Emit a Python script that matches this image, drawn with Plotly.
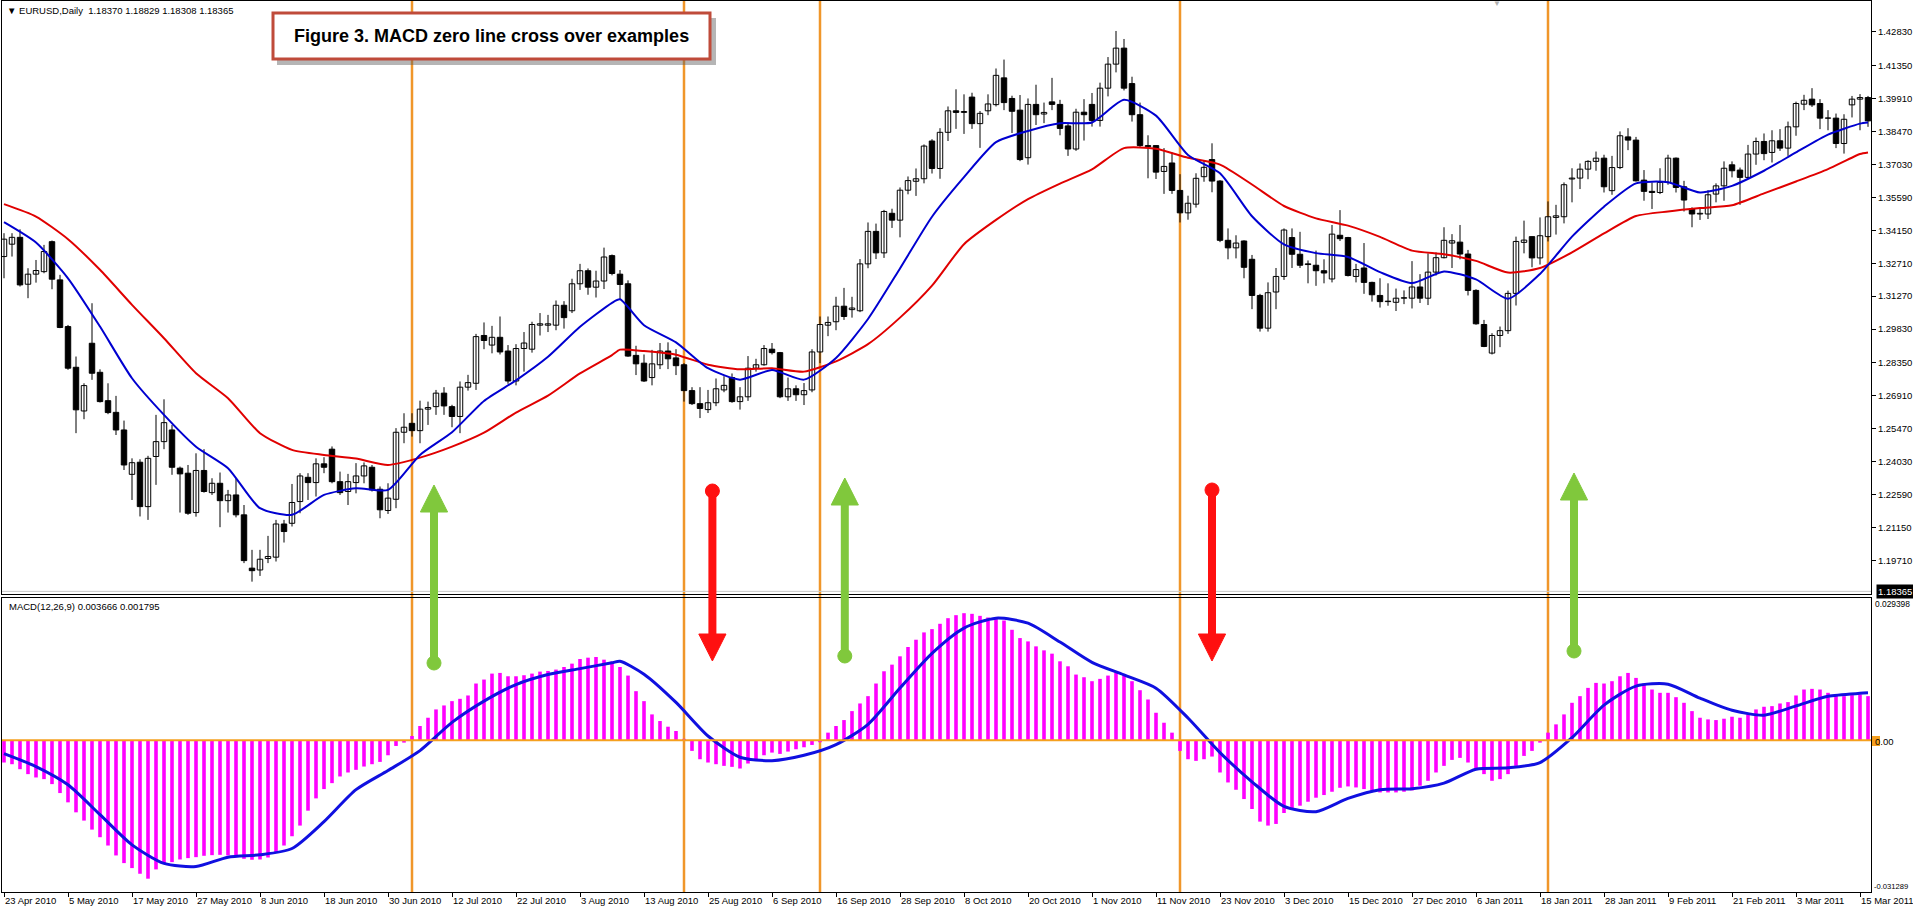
import plotly.graph_objects as go

# daily EURUSD bars, 23 Apr 2010 .. 16 Mar 2011
OPEN = [
    1.3300, 1.3354, 1.3384, 1.3179, 1.3223, 1.3234, 1.3365, 1.3198, 1.2994, 1.2816,
    1.2625, 1.2921, 1.2794, 1.2670, 1.2619, 1.2542, 1.2348, 1.2401, 1.2207, 1.2426,
    1.2491, 1.2542, 1.2375, 1.2353, 1.2181, 1.2365, 1.2268, 1.2309, 1.2233, 1.2258,
    1.2171, 1.1938, 1.1930, 1.1980, 1.1986, 1.2131, 1.2134, 1.2229, 1.2335, 1.2312,
    1.2394, 1.2458, 1.2316, 1.2273, 1.2312, 1.2341, 1.2379, 1.2283, 1.2190, 1.2239,
    1.2532, 1.2571, 1.2539, 1.2633, 1.2644, 1.2703, 1.2644, 1.2601, 1.2729, 1.2746,
    1.2955, 1.2913, 1.2947, 1.2887, 1.2756, 1.2898, 1.2895, 1.3000, 1.3000, 1.3000,
    1.3087, 1.3063, 1.3181, 1.3238, 1.3166, 1.3193, 1.3304, 1.3223, 1.3181, 1.2868,
    1.2834, 1.2771, 1.2827, 1.2887, 1.2857, 1.2827, 1.2714, 1.2657, 1.2631, 1.2661,
    1.2717, 1.2771, 1.2666, 1.2687, 1.2812, 1.2827, 1.2895, 1.2880, 1.2687, 1.2722,
    1.2696, 1.2717, 1.2883, 1.3000, 1.3015, 1.3083, 1.3068, 1.3063, 1.3268, 1.3410,
    1.3316, 1.3489, 1.3459, 1.3590, 1.3629, 1.3640, 1.3805, 1.3685, 1.3843, 1.3937,
    1.3930, 1.3997, 1.3881, 1.3937, 1.3964, 1.4081, 1.3991, 1.3940, 1.3732, 1.3965,
    1.3923, 1.3976, 1.3965, 1.3871, 1.3770, 1.3931, 1.3965, 1.3895, 1.4036, 1.4141,
    1.4211, 1.4056, 1.3920, 1.3785, 1.3785, 1.3672, 1.3709, 1.3589, 1.3491, 1.3529,
    1.3649, 1.3724, 1.3630, 1.3371, 1.3338, 1.3368, 1.3288, 1.3130, 1.2987, 1.3145,
    1.3213, 1.3383, 1.3310, 1.3268, 1.3262, 1.3238, 1.3202, 1.3393, 1.3383, 1.3213,
    1.3250, 1.3187, 1.3130, 1.3105, 1.3100, 1.3118, 1.3118, 1.3167, 1.3118, 1.3232,
    1.3295, 1.3359, 1.3363, 1.3311, 1.3152, 1.3003, 1.2878, 1.2955, 1.2976, 1.3139,
    1.3362, 1.3387, 1.3294, 1.3387, 1.3471, 1.3474, 1.3639, 1.3643, 1.3682, 1.3716,
    1.3730, 1.3588, 1.3689, 1.3823, 1.3809, 1.3634, 1.3585, 1.3580, 1.3624, 1.3730,
    1.3605, 1.3508, 1.3486, 1.3486, 1.3573, 1.3609, 1.3701, 1.3678, 1.3646, 1.3748,
    1.3803, 1.3755, 1.3806, 1.3774, 1.3867, 1.3966, 1.3988, 1.3969, 1.3905, 1.3905,
    1.3794, 1.3963, 1.3988, 1.3995,
]
HIGH = [
    1.3402, 1.3402, 1.3419, 1.3249, 1.3285, 1.3351, 1.3370, 1.3220, 1.3001, 1.2863,
    1.2746, 1.3096, 1.2807, 1.2746, 1.2691, 1.2583, 1.2418, 1.2414, 1.2429, 1.2608,
    1.2676, 1.2564, 1.2382, 1.2389, 1.2440, 1.2458, 1.2331, 1.2356, 1.2280, 1.2331,
    1.2214, 1.2018, 1.2018, 1.2079, 1.2149, 1.2149, 1.2306, 1.2353, 1.2353, 1.2418,
    1.2423, 1.2470, 1.2360, 1.2350, 1.2397, 1.2400, 1.2389, 1.2295, 1.2309, 1.2550,
    1.2615, 1.2615, 1.2670, 1.2666, 1.2717, 1.2729, 1.2652, 1.2754, 1.2783, 1.2962,
    1.3012, 1.2997, 1.3038, 1.2913, 1.2917, 1.2970, 1.3015, 1.3053, 1.3045, 1.3108,
    1.3105, 1.3203, 1.3268, 1.3248, 1.3238, 1.3339, 1.3309, 1.3241, 1.3196, 1.2910,
    1.2872, 1.2892, 1.2922, 1.2925, 1.2895, 1.2834, 1.2729, 1.2729, 1.2717, 1.2767,
    1.2777, 1.2789, 1.2729, 1.2865, 1.2853, 1.2913, 1.2922, 1.2883, 1.2771, 1.2737,
    1.2747, 1.2895, 1.3038, 1.3038, 1.3124, 1.3163, 1.3124, 1.3289, 1.3449, 1.3444,
    1.3504, 1.3509, 1.3602, 1.3650, 1.3685, 1.3790, 1.3813, 1.3861, 1.3956, 1.4031,
    1.4009, 1.4016, 1.3936, 1.4009, 1.4122, 1.4161, 1.4003, 1.4006, 1.3991, 1.4051,
    1.3973, 1.4081, 1.3985, 1.3886, 1.3946, 1.3988, 1.4015, 1.4060, 1.4172, 1.4286,
    1.4251, 1.4086, 1.3973, 1.3830, 1.3785, 1.3774, 1.3755, 1.3660, 1.3566, 1.3664,
    1.3720, 1.3795, 1.3634, 1.3423, 1.3393, 1.3371, 1.3307, 1.3137, 1.3187, 1.3250,
    1.3423, 1.3423, 1.3408, 1.3283, 1.3326, 1.3288, 1.3438, 1.3503, 1.3386, 1.3268,
    1.3359, 1.3190, 1.3205, 1.3183, 1.3160, 1.3152, 1.3280, 1.3223, 1.3314, 1.3318,
    1.3428, 1.3398, 1.3438, 1.3329, 1.3157, 1.3023, 1.2965, 1.2994, 1.3151, 1.3387,
    1.3457, 1.3387, 1.3471, 1.3541, 1.3526, 1.3624, 1.3686, 1.3707, 1.3721, 1.3759,
    1.3745, 1.3740, 1.3847, 1.3861, 1.3823, 1.3678, 1.3624, 1.3686, 1.3745, 1.3733,
    1.3631, 1.3515, 1.3515, 1.3590, 1.3620, 1.3716, 1.3716, 1.3689, 1.3788, 1.3820,
    1.3838, 1.3852, 1.3857, 1.3890, 1.3977, 1.4007, 1.4036, 1.3988, 1.3940, 1.3925,
    1.3922, 1.4002, 1.4010, 1.4002,
]
LOW = [
    1.3205, 1.3300, 1.3169, 1.3118, 1.3186, 1.3227, 1.3157, 1.2987, 1.2805, 1.2528,
    1.2589, 1.2761, 1.2662, 1.2611, 1.2520, 1.2367, 1.2236, 1.2164, 1.2149, 1.2302,
    1.2458, 1.2346, 1.2181, 1.2171, 1.2163, 1.2268, 1.2258, 1.2117, 1.2181, 1.2160,
    1.1960, 1.1879, 1.1904, 1.1960, 1.1967, 1.2050, 1.2120, 1.2178, 1.2236, 1.2251,
    1.2353, 1.2309, 1.2258, 1.2214, 1.2265, 1.2309, 1.2273, 1.2156, 1.2175, 1.2200,
    1.2484, 1.2513, 1.2484, 1.2564, 1.2608, 1.2608, 1.2554, 1.2528, 1.2714, 1.2717,
    1.2895, 1.2877, 1.2872, 1.2744, 1.2737, 1.2797, 1.2880, 1.2955, 1.2970, 1.2978,
    1.2985, 1.3053, 1.3154, 1.3133, 1.3121, 1.3158, 1.3218, 1.3113, 1.2862, 1.2782,
    1.2752, 1.2737, 1.2808, 1.2808, 1.2782, 1.2666, 1.2651, 1.2594, 1.2616, 1.2646,
    1.2707, 1.2661, 1.2631, 1.2669, 1.2797, 1.2823, 1.2872, 1.2681, 1.2669, 1.2669,
    1.2651, 1.2707, 1.2834, 1.2952, 1.2978, 1.3023, 1.3033, 1.3057, 1.3249, 1.3289,
    1.3294, 1.3425, 1.3384, 1.3572, 1.3565, 1.3620, 1.3663, 1.3640, 1.3805, 1.3858,
    1.3836, 1.3858, 1.3775, 1.3918, 1.3956, 1.3940, 1.3840, 1.3717, 1.3702, 1.3875,
    1.3883, 1.3940, 1.3830, 1.3740, 1.3762, 1.3807, 1.3868, 1.3868, 1.4000, 1.4105,
    1.4026, 1.3890, 1.3777, 1.3642, 1.3639, 1.3574, 1.3574, 1.3449, 1.3461, 1.3514,
    1.3627, 1.3581, 1.3363, 1.3288, 1.3292, 1.3205, 1.3070, 1.2972, 1.2972, 1.3070,
    1.3198, 1.3250, 1.3250, 1.3183, 1.3172, 1.3183, 1.3187, 1.3368, 1.3213, 1.3187,
    1.3137, 1.3103, 1.3077, 1.3085, 1.3062, 1.3092, 1.3073, 1.3097, 1.3088, 1.3217,
    1.3292, 1.3250, 1.3288, 1.3130, 1.3002, 1.2904, 1.2872, 1.2904, 1.2962, 1.3086,
    1.3314, 1.3253, 1.3265, 1.3366, 1.3396, 1.3445, 1.3537, 1.3595, 1.3638, 1.3675,
    1.3580, 1.3570, 1.3682, 1.3765, 1.3628, 1.3544, 1.3508, 1.3573, 1.3614, 1.3580,
    1.3497, 1.3428, 1.3460, 1.3464, 1.3537, 1.3544, 1.3646, 1.3526, 1.3643, 1.3701,
    1.3721, 1.3711, 1.3762, 1.3740, 1.3828, 1.3940, 1.3954, 1.3857, 1.3852, 1.3774,
    1.3750, 1.3908, 1.3852, 1.3867,
]
CLOSE = [
    1.3376, 1.3384, 1.3176, 1.3223, 1.3239, 1.3322, 1.3201, 1.2990, 1.2812, 1.2630,
    1.2736, 1.2790, 1.2666, 1.2618, 1.2542, 1.2389, 1.2399, 1.2207, 1.2418, 1.2491,
    1.2574, 1.2379, 1.2350, 1.2178, 1.2365, 1.2273, 1.2309, 1.2233, 1.2258, 1.2171,
    1.1971, 1.1927, 1.1977, 1.1989, 1.2131, 1.2098, 1.2225, 1.2341, 1.2312, 1.2394,
    1.2379, 1.2316, 1.2268, 1.2316, 1.2341, 1.2385, 1.2280, 1.2193, 1.2244, 1.2532,
    1.2554, 1.2539, 1.2633, 1.2640, 1.2703, 1.2647, 1.2601, 1.2729, 1.2749, 1.2950,
    1.2933, 1.2947, 1.2883, 1.2756, 1.2898, 1.2922, 1.3003, 1.3006, 1.3006, 1.3087,
    1.3033, 1.3181, 1.3238, 1.3166, 1.3193, 1.3298, 1.3226, 1.3178, 1.2865, 1.2831,
    1.2756, 1.2831, 1.2887, 1.2853, 1.2823, 1.2714, 1.2657, 1.2636, 1.2661, 1.2722,
    1.2737, 1.2666, 1.2687, 1.2812, 1.2827, 1.2898, 1.2880, 1.2687, 1.2722, 1.2696,
    1.2714, 1.2883, 1.3003, 1.3012, 1.3083, 1.3038, 1.3075, 1.3268, 1.3410, 1.3316,
    1.3497, 1.3459, 1.3590, 1.3632, 1.3640, 1.3783, 1.3685, 1.3843, 1.3937, 1.3930,
    1.3934, 1.3881, 1.3926, 1.3967, 1.4092, 1.3973, 1.3935, 1.3724, 1.3965, 1.3920,
    1.3930, 1.3965, 1.3860, 1.3770, 1.3931, 1.3920, 1.3895, 1.4036, 1.4141, 1.4211,
    1.4036, 1.3920, 1.3785, 1.3780, 1.3669, 1.3694, 1.3589, 1.3491, 1.3533, 1.3642,
    1.3690, 1.3630, 1.3371, 1.3338, 1.3359, 1.3253, 1.3130, 1.2987, 1.3142, 1.3213,
    1.3416, 1.3310, 1.3262, 1.3265, 1.3238, 1.3228, 1.3398, 1.3378, 1.3217, 1.3243,
    1.3187, 1.3133, 1.3103, 1.3103, 1.3118, 1.3120, 1.3167, 1.3118, 1.3232, 1.3295,
    1.3371, 1.3369, 1.3311, 1.3152, 1.3006, 1.2907, 1.2955, 1.2976, 1.3139, 1.3366,
    1.3372, 1.3294, 1.3391, 1.3474, 1.3478, 1.3614, 1.3643, 1.3682, 1.3716, 1.3730,
    1.3605, 1.3689, 1.3828, 1.3809, 1.3631, 1.3585, 1.3580, 1.3624, 1.3730, 1.3602,
    1.3547, 1.3486, 1.3489, 1.3570, 1.3609, 1.3686, 1.3675, 1.3646, 1.3748, 1.3803,
    1.3750, 1.3806, 1.3774, 1.3867, 1.3969, 1.3983, 1.3963, 1.3905, 1.3905, 1.3794,
    1.3900, 1.3988, 1.3995, 1.3893,
]

# moving averages and MACD signal, read every few bars
MA_IDX = [0, 4, 8, 12, 16, 20, 24, 28, 32, 36, 40, 44, 48, 52, 56, 60, 64, 68, 72, 76, 77,
          80, 84, 88, 92, 96, 100, 104, 108, 112, 116, 120, 124, 128, 132, 136, 140, 144,
          148, 152, 156, 160, 164, 168, 172, 176, 180, 184, 188, 192, 196, 200, 204, 208,
          212, 216, 220, 224, 228, 232, 233]
MA_FAST = [1.3450, 1.3361, 1.3205, 1.2994, 1.2768, 1.2608, 1.2469, 1.2375, 1.2200, 1.2171,
           1.2258, 1.2287, 1.2280, 1.2433, 1.2532, 1.2669, 1.2759, 1.2862, 1.2993, 1.3098,
           1.3113, 1.3000, 1.2925, 1.2812, 1.2762, 1.2804, 1.2762, 1.2857, 1.3027, 1.3248,
           1.3474, 1.3647, 1.3800, 1.3849, 1.3883, 1.3886, 1.3985, 1.3916, 1.3744, 1.3664,
           1.3476, 1.3353, 1.3315, 1.3298, 1.3232, 1.3184, 1.3235, 1.3200, 1.3116, 1.3224,
           1.3387, 1.3518, 1.3620, 1.3625, 1.3580, 1.3609, 1.3675, 1.3755, 1.3833, 1.3881,
           1.3886]
MA_SLOW = [1.3529, 1.3475, 1.3376, 1.3242, 1.3089, 1.2943, 1.2790, 1.2681, 1.2528, 1.2455,
           1.2433, 1.2417, 1.2389, 1.2421, 1.2469, 1.2530, 1.2618, 1.2692, 1.2789, 1.2869,
           1.2893, 1.2887, 1.2871, 1.2827, 1.2807, 1.2812, 1.2797, 1.2842, 1.2917, 1.3033,
           1.3173, 1.3354, 1.3460, 1.3551, 1.3619, 1.3681, 1.3774, 1.3771, 1.3732, 1.3702,
           1.3615, 1.3521, 1.3467, 1.3435, 1.3386, 1.3326, 1.3310, 1.3281, 1.3230, 1.3250,
           1.3318, 1.3401, 1.3477, 1.3497, 1.3512, 1.3524, 1.3576, 1.3628, 1.3682, 1.3748,
           1.3755]
MACD_SIGNAL = [-0.00274, -0.00542, -0.00919, -0.01536, -0.02160, -0.02544, -0.02606, -0.02414,
               -0.02366, -0.02235, -0.01680, -0.01020, -0.00624, -0.00213, 0.00370, 0.00810,
               0.01150, 0.01358, 0.01481, 0.01600, 0.01632, 0.01365, 0.00782, 0.00089,
               -0.00350, -0.00420, -0.00310, -0.00090, 0.00330, 0.01080, 0.01797, 0.02318,
               0.02523, 0.02420, 0.02030, 0.01610, 0.01350, 0.01077, 0.00460, -0.00254,
               -0.00857, -0.01365, -0.01474, -0.01200, -0.01020, -0.01000, -0.00885, -0.00597,
               -0.00569, -0.00460, 0.00055, 0.00727, 0.01120, 0.01160, 0.00870, 0.00620,
               0.00520, 0.00710, 0.00910, 0.00970, 0.00980]

MACD_HIST = [
    -0.00459, -0.00494, -0.00597, -0.00699, -0.00768, -0.00802, -0.00905, -0.01090, -0.01282, -0.01488,
    -0.01659, -0.01845, -0.02002, -0.02174, -0.02379, -0.02537, -0.02640, -0.02757, -0.02859, -0.02667,
    -0.02551, -0.02517, -0.02462, -0.02434, -0.02414, -0.02386, -0.02373, -0.02366, -0.02379, -0.02400,
    -0.02448, -0.02468, -0.02462, -0.02421, -0.02311, -0.02174, -0.01982, -0.01762, -0.01454, -0.01200,
    -0.01008, -0.00885, -0.00747, -0.00665, -0.00610, -0.00542, -0.00494, -0.00446, -0.00309, -0.00117,
    -0.00048, 0.00089, 0.00295, 0.00466, 0.00638, 0.00720, 0.00809, 0.00857, 0.00926, 0.01173,
    0.01255, 0.01378, 0.01392, 0.01323, 0.01323, 0.01344, 0.01378, 0.01419, 0.01433, 0.01461,
    0.01515, 0.01584, 0.01680, 0.01707, 0.01721, 0.01666, 0.01625, 0.01515, 0.01337, 0.01015,
    0.00809, 0.00535, 0.00398, 0.00281, 0.00192, 0.00030, -0.00219, -0.00391, -0.00459, -0.00494,
    -0.00528, -0.00549, -0.00583, -0.00480, -0.00405, -0.00309, -0.00254, -0.00281, -0.00233, -0.00185,
    -0.00144, -0.00096, -0.00040, 0.00158, 0.00295, 0.00418, 0.00603, 0.00761, 0.00912, 0.01173,
    0.01426, 0.01563, 0.01735, 0.01927, 0.02078, 0.02229, 0.02297, 0.02407, 0.02523, 0.02585,
    0.02626, 0.02613, 0.02571, 0.02537, 0.02503, 0.02475, 0.02283, 0.02112, 0.02043, 0.01941,
    0.01858, 0.01790, 0.01632, 0.01529, 0.01358, 0.01303, 0.01221, 0.01269, 0.01337, 0.01392,
    0.01344, 0.01221, 0.01035, 0.00843, 0.00569, 0.00363, 0.00158, -0.00219, -0.00391, -0.00425,
    -0.00391, -0.00336, -0.00665, -0.00871, -0.01022, -0.01214, -0.01419, -0.01680, -0.01762, -0.01728,
    -0.01502, -0.01419, -0.01351, -0.01269, -0.01186, -0.01131, -0.01063, -0.00981, -0.00953, -0.00974,
    -0.01008, -0.01042, -0.01077, -0.01077, -0.01077, -0.01063, -0.01035, -0.00939, -0.00837, -0.00665,
    -0.00528, -0.00405, -0.00363, -0.00459, -0.00597, -0.00699, -0.00837, -0.00802, -0.00699, -0.00528,
    -0.00322, -0.00219, -0.00048, 0.00158, 0.00329, 0.00535, 0.00775, 0.00912, 0.01083, 0.01186,
    0.01173, 0.01221, 0.01323, 0.01392, 0.01289, 0.01173, 0.01049, 0.00981, 0.00981, 0.00891,
    0.00775, 0.00603, 0.00466, 0.00432, 0.00418, 0.00446, 0.00487, 0.00466, 0.00535, 0.00638,
    0.00693, 0.00706, 0.00761, 0.00789, 0.00926, 0.01049, 0.01063, 0.01049, 0.00981, 0.00926,
    0.00912, 0.00933, 0.00946, 0.00912,
]

PRICE_TICKS = [1.42830, 1.41350, 1.39910, 1.38470, 1.37030, 1.35590, 1.34150, 1.32710,
               1.31270, 1.29830, 1.28350, 1.26910, 1.25470, 1.24030, 1.22590, 1.21150, 1.19710]
DATE_LABELS = ["23 Apr 2010", "5 May 2010", "17 May 2010", "27 May 2010", "8 Jun 2010",
               "18 Jun 2010", "30 Jun 2010", "12 Jul 2010", "22 Jul 2010", "3 Aug 2010",
               "13 Aug 2010", "25 Aug 2010", "6 Sep 2010", "16 Sep 2010", "28 Sep 2010",
               "8 Oct 2010", "20 Oct 2010", "1 Nov 2010", "11 Nov 2010", "23 Nov 2010",
               "3 Dec 2010", "15 Dec 2010", "27 Dec 2010", "6 Jan 2011", "18 Jan 2011",
               "28 Jan 2011", "9 Feb 2011", "21 Feb 2011", "3 Mar 2011", "15 Mar 2011"]
LABEL_EVERY = 8
CROSS_BARS = [51, 85, 102, 147, 193]
LAST_PRICE = 1.18365
MACD_MAX, MACD_MIN = 0.029398, -0.031289

# signal arrows: bar position, direction, head pixel row, tail pixel row
ARROWS = [(53.75, "up", 485, 663), (88.55, "down", 661, 491), (105.1, "up", 478, 656),
          (151.0, "down", 661, 490), (196.25, "up", 473, 651)]

W, H = 1913, 912
ML, MR, MT, MB = 2, 42, 1, 20
FONT = "Liberation Sans, Arial, sans-serif"


def px(p):
    return (p - ML) / (W - ML - MR)


def py(p):
    return (H - MB - p) / (H - MB - MT)


bars = list(range(len(CLOSE)))
x_range = [-0.25, 233.375]

fig = go.Figure()

# wicks
wx, wy = [], []
for i in bars:
    wx += [i, i, None]
    wy += [LOW[i], HIGH[i], None]
fig.add_trace(go.Scatter(x=wx, y=wy, mode="lines", line=dict(color="black", width=1),
                         hoverinfo="skip", showlegend=False))

# candle bodies
for bull in (True, False):
    sel = [i for i in bars if (CLOSE[i] >= OPEN[i]) == bull]
    fig.add_trace(go.Bar(
        x=sel,
        base=[min(OPEN[i], CLOSE[i]) for i in sel],
        y=[max(abs(CLOSE[i] - OPEN[i]), 0.00004) for i in sel],
        width=0.68,
        marker=dict(color="white" if bull else "black", line=dict(color="black", width=1)),
        showlegend=False,
    ))

fig.add_trace(go.Scatter(x=MA_IDX, y=MA_SLOW, mode="lines",
                         line=dict(color="#e00000", width=2, shape="spline", smoothing=0.6),
                         showlegend=False))
fig.add_trace(go.Scatter(x=MA_IDX, y=MA_FAST, mode="lines",
                         line=dict(color="#0000d0", width=2, shape="spline", smoothing=0.6),
                         showlegend=False))

# MACD panel
fig.add_trace(go.Bar(x=bars, y=MACD_HIST, width=0.45, marker=dict(color="#ff00ff", line=dict(width=0)),
                     xaxis="x2", yaxis="y2", showlegend=False))
fig.add_trace(go.Scatter(x=MA_IDX, y=MACD_SIGNAL, mode="lines", xaxis="x2", yaxis="y2",
                         line=dict(color="#1010e0", width=3, shape="spline", smoothing=0.7),
                         showlegend=False))

shapes = []
for b in CROSS_BARS:
    shapes.append(dict(type="line", xref="x", yref="paper", x0=b, x1=b, y0=0, y1=1,
                       line=dict(color="#f0962a", width=2.5), layer="below"))
shapes.append(dict(type="line", xref="paper", yref="y", x0=0, x1=1, y0=LAST_PRICE, y1=LAST_PRICE,
                   line=dict(color="#c8c8c8", width=1), layer="below"))
shapes.append(dict(type="line", xref="paper", yref="y2", x0=0, x1=1, y0=0, y1=0,
                   line=dict(color="#f5a01e", width=2), layer="above"))
# zero tag
shapes.append(dict(type="rect", xref="paper", yref="paper", x0=px(1872), x1=px(1880),
                   y0=py(746), y1=py(736), fillcolor="#f5a01e", line=dict(width=0)))

# arrows
head_h, head_half, shaft_w, r_px = 27, 1.7, 8, 7
for b, direction, head_y, tail_y in ARROWS:
    color = "#80c83c" if direction == "up" else "#ff1010"
    sgn = 1 if direction == "up" else -1
    base_y = head_y + sgn * head_h
    shapes.append(dict(type="line", xref="x", yref="paper", x0=b, x1=b, y0=py(base_y), y1=py(tail_y),
                       line=dict(color=color, width=shaft_w), layer="above"))
    shapes.append(dict(type="path", xref="x", yref="paper", layer="above",
                       path=f"M {b},{py(head_y)} L {b - head_half},{py(base_y)} L {b + head_half},{py(base_y)} Z",
                       fillcolor=color, line=dict(color=color, width=1)))
    shapes.append(dict(type="circle", xref="x", yref="paper", layer="above",
                       x0=b - r_px / 8, x1=b + r_px / 8, y0=py(tail_y + r_px), y1=py(tail_y - r_px),
                       fillcolor=color, line=dict(color=color, width=1)))

# title box with shadow
shapes.append(dict(type="rect", xref="paper", yref="paper", x0=px(277), x1=px(716), y0=py(65), y1=py(18),
                   fillcolor="rgba(90,90,90,0.45)", line=dict(width=0), layer="above"))
shapes.append(dict(type="rect", xref="paper", yref="paper", x0=px(273), x1=px(710), y0=py(59), y1=py(13),
                   fillcolor="white", line=dict(color="#bf4b3a", width=3), layer="above"))

small = dict(family=FONT, size=9.5, color="black")
edge = dict(family=FONT, size=8.4, color="black")
annotations = [
    dict(xref="paper", yref="paper", x=px(5), y=py(11), xanchor="left", yanchor="middle",
         text="▼ EURUSD,Daily  1.18370 1.18829 1.18308 1.18365", showarrow=False, font=small),
    dict(xref="paper", yref="paper", x=px(7), y=py(606), xanchor="left", yanchor="middle",
         text="MACD(12,26,9) 0.003666 0.001795", showarrow=False, font=small),
    dict(xref="paper", yref="paper", x=px(491.5), y=py(36), xanchor="center", yanchor="middle",
         text="<b>Figure 3. MACD zero line cross over examples</b>", showarrow=False,
         font=dict(family=FONT, size=18, color="black")),
    dict(xref="paper", yref="y", x=px(1876), y=LAST_PRICE, xanchor="left", yanchor="middle",
         text=f"{LAST_PRICE:.5f}", showarrow=False, bgcolor="black", borderpad=1,
         font=dict(family=FONT, size=9.5, color="white")),
    dict(xref="paper", yref="paper", x=px(1873), y=py(604), xanchor="left", yanchor="middle",
         text=f"{MACD_MAX:.6f}", showarrow=False, font=edge),
    dict(xref="paper", yref="paper", x=px(1873), y=py(741), xanchor="left", yanchor="middle",
         text="0.00", showarrow=False, font=small),
    dict(xref="paper", yref="paper", x=px(1872), y=py(886), xanchor="left", yanchor="middle",
         text=f"{MACD_MIN:.6f}", showarrow=False, font=dict(family=FONT, size=7.6, color="black")),
    dict(xref="paper", yref="paper", x=px(1497), y=py(4), xanchor="center", yanchor="middle",
         text="▼", showarrow=False, font=dict(family=FONT, size=8, color="#b0b0b0")),
]

axis_common = dict(showgrid=False, zeroline=False, showline=True, mirror=True,
                   linecolor="black", linewidth=1, automargin=False)

fig.update_layout(
    width=W, height=H,
    margin=dict(l=ML, r=MR, t=MT, b=MB),
    paper_bgcolor="white", plot_bgcolor="white",
    barmode="overlay",
    font=small,
    xaxis=dict(domain=[0, 1], anchor="y", range=x_range, showticklabels=False, ticks="",
               **axis_common),
    yaxis=dict(domain=[py(594), 1], anchor="x", range=[1.1825, 1.4417], side="right",
               tickvals=PRICE_TICKS, ticktext=[f"{v:.5f}" for v in PRICE_TICKS],
               ticks="outside", ticklen=4, tickcolor="black", tickfont=small, **axis_common),
    xaxis2=dict(domain=[0, 1], anchor="y2", range=x_range,
                tickvals=list(range(0, LABEL_EVERY * len(DATE_LABELS), LABEL_EVERY)),
                ticktext=DATE_LABELS, ticks="outside", ticklen=4, tickcolor="black",
                ticklabelposition="outside right", ticklabeloverflow="allow",
                tickfont=small, **axis_common),
    yaxis2=dict(domain=[0, py(598)], anchor="x2", range=[-0.03134, MACD_MAX], side="right",
                showticklabels=False, ticks="", **axis_common),
    shapes=shapes,
    annotations=annotations,
)

# the page gets no body margin so the figure sits flush with the window
fig.write_html("out.html", config=dict(displayModeBar=False),
               post_script="document.body.style.margin='0';document.body.style.overflow='hidden';")
